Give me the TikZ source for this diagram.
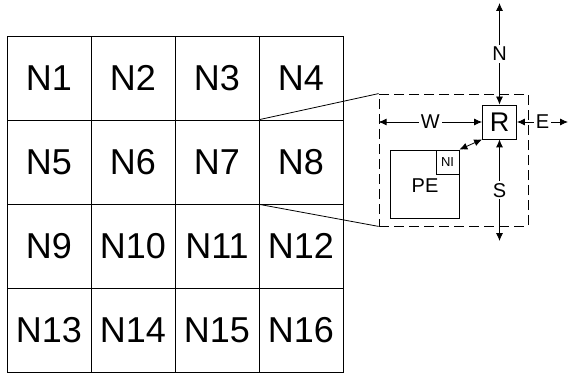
\documentclass[tikz,border=0pt]{standalone}
\usepackage{fontspec}
\setmainfont{Liberation Sans}
\usetikzlibrary{arrows.meta,positioning}

\begin{document}
\begin{tikzpicture}[x=1pt,y=1pt,line width=0.8pt,
	>={Latex[length=8pt,width=7pt]},
	cell/.style={draw, minimum size=84pt, inner sep=0pt, font=\fontsize{36}{36}\selectfont},
	router/.style={draw, minimum size=34pt, inner sep=0pt, font=\fontsize{27}{27}\selectfont},
	lbl/.style={fill=white, inner sep=2pt, font=\fontsize{20}{20}\selectfont}]
			\useasboundingbox (0,0) rectangle (569,-374);
			% mesh of nodes
			\foreach \r in {0,...,3}
			\foreach \c in {0,...,3}
			{
				\pgfmathtruncatemacro{\k}{4*\r+\c+1}
				\node [cell] (n\k) at (49+84*\c, -78-84*\r) {N\k};
			}
			
			% zoomed tile
			\node (tile) [draw, dash pattern=on 10pt off 5pt, minimum width=149pt, minimum height=132pt, inner sep=0pt] at (453.5,-160) {};
			\draw (n7.north east) -- (tile.north west);
			\draw (n7.south east) -- (tile.south west);
			
			\node (R) [router] at (499.5,-122) {R};
			\node (PE) [draw, minimum width=69pt, minimum height=68pt, inner sep=0pt] at (424.5,-184) {};
			\node (NI) [draw, minimum width=23pt, minimum height=24pt, inner sep=0pt, anchor=north east, font=\fontsize{13}{13}\selectfont] at (PE.north east) {NI};
			\node (pelbl) [font=\fontsize{20}{20}\selectfont] at (425,-186) {PE};
			
			\coordinate (ntop) at (499.5,-3);
			\coordinate (sbot) at (499.5,-241);
			\coordinate (eend) at (568,-122);
			\coordinate (wend) at (tile.west |- R.west);
			
			\draw [<->] (ntop) -- node [lbl] {N} (R.north);
			\draw [<->] (R.south) -- node [lbl] {S} (sbot);
			\draw [<->] (wend) -- node [lbl] {W} (R.west);
			\draw [<->] (R.east) -- node [lbl] {E} (eend);
			\draw [<->] (NI.north east) -- (R.south west);
		\end{tikzpicture}
\end{document}
